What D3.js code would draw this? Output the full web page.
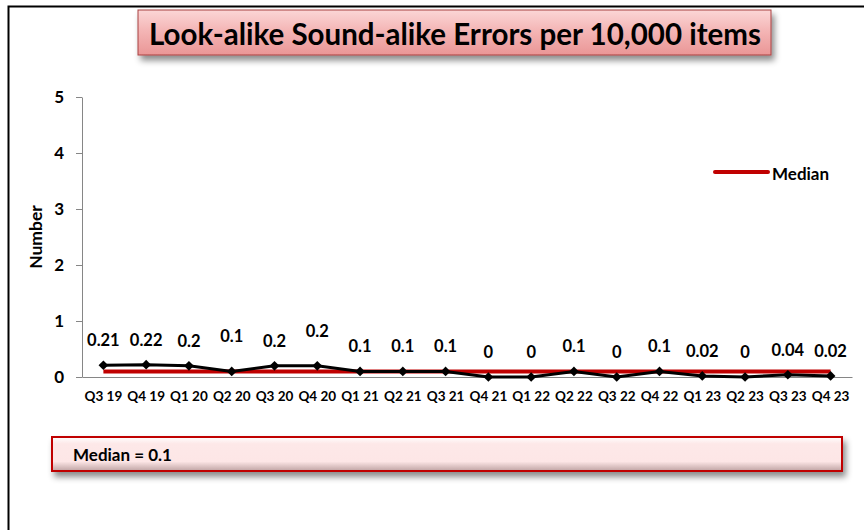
<!DOCTYPE html>
<html>
<head>
<meta charset="utf-8">
<script src="https://cdn.jsdelivr.net/npm/d3@7"></script>
<style>
    body { margin: 0; background: #fff; }
    svg { display: block; font-family: Lato, 'Open Sans', sans-serif; }
</style>
</head>
<body>
<svg id="chart"></svg>
<script>
const svgWidth = 864
const svgHeight = 530

const quarters = ['Q3 19', 'Q4 19', 'Q1 20', 'Q2 20', 'Q3 20', 'Q4 20', 'Q1 21', 'Q2 21', 'Q3 21',
    'Q4 21', 'Q1 22', 'Q2 22', 'Q3 22', 'Q4 22', 'Q1 23', 'Q2 23', 'Q3 23', 'Q4 23']
const errors = [0.21, 0.22, 0.2, 0.1, 0.2, 0.2, 0.1, 0.1, 0.1, 0, 0, 0.1, 0, 0.1, 0.02, 0, 0.04, 0.02]
const labels = ['0.21', '0.22', '0.2', '0.1', '0.2', '0.2', '0.1', '0.1', '0.1', '0', '0', '0.1', '0', '0.1', '0.02', '0', '0.04', '0.02']
const median = 0.1
const yTicks = [0, 1, 2, 3, 4, 5]
// labels Excel left sitting a bit higher
const liftedLabels = ['Q2 20', 'Q4 20']

const margin = { left: 82, right: 12, top: 97, bottom: 153 }
const width = svgWidth - margin.left - margin.right
const height = svgHeight - margin.top - margin.bottom

const svg = d3.select('#chart')
    .attr('width', svgWidth)
    .attr('height', svgHeight)

const defs = svg.append('defs')

const shadow = defs.append('filter')
    .attr('id', 'shadow')
    .attr('x', '-5%').attr('y', '-30%')
    .attr('width', '115%').attr('height', '180%')
shadow.append('feDropShadow')
    .attr('dx', 3).attr('dy', 5)
    .attr('stdDeviation', 3)
    .attr('flood-color', '#000')
    .attr('flood-opacity', 0.45)

const titleGrad = defs.append('linearGradient')
    .attr('id', 'titleGrad')
    .attr('x1', 0).attr('y1', 0).attr('x2', 0).attr('y2', 1)
titleGrad.selectAll('stop')
    .data([['0%', '#fbd6d6'], ['45%', '#f4b6b6'], ['100%', '#ea9696']])
    .join('stop')
    .attr('offset', d => d[0])
    .attr('stop-color', d => d[1])

const boxGrad = defs.append('linearGradient')
    .attr('id', 'boxGrad')
    .attr('x1', 0).attr('y1', 0).attr('x2', 0).attr('y2', 1)
boxGrad.selectAll('stop')
    .data([['0%', '#ffffff'], ['20%', '#fde8e8'], ['72%', '#fde6e6'], ['100%', '#bfa3a3']])
    .join('stop')
    .attr('offset', d => d[0])
    .attr('stop-color', d => d[1])

// outer frame
svg.append('rect')
    .attr('x', 8.5).attr('y', 6.5)
    .attr('width', svgWidth).attr('height', svgHeight)
    .attr('fill', 'none')
    .attr('stroke', '#000')
    .attr('stroke-width', 2)

// title box
const titleBox = svg.append('g')
titleBox.append('rect')
    .attr('x', 138).attr('y', 10)
    .attr('width', 633).attr('height', 45)
    .attr('fill', 'url(#titleGrad)')
    .attr('stroke', '#a84040')
    .attr('stroke-width', 1)
    .attr('filter', 'url(#shadow)')
titleBox.append('text')
    .attr('x', 455).attr('y', 33)
    .attr('text-anchor', 'middle')
    .attr('dominant-baseline', 'central')
    .attr('font-size', 29.5)
    .attr('font-weight', 'bold')
    .attr('fill', '#000')
    .text('Look-alike Sound-alike Errors per 10,000 items')

const chart = svg.append('g')
    .attr('transform', `translate(${[margin.left, margin.top]})`)

const x = d3.scaleBand()
    .domain(quarters)
    .range([0, width])

const y = d3.scaleLinear()
    .domain([0, 5])
    .range([height, 0])

const cx = d => x(d) + x.bandwidth() / 2

// axes
const yAxis = chart.append('g')
    .call(d3.axisLeft(y).tickValues(yTicks).tickFormat(d3.format('d')).tickSize(6).tickSizeOuter(0).tickPadding(12))
yAxis.select('.domain').attr('stroke', '#868686')
yAxis.selectAll('.tick line').attr('stroke', '#868686')
yAxis.selectAll('.tick text')
    .attr('font-size', 17)
    .attr('font-weight', 'bold')
    .attr('fill', '#000')
    .attr('font-family', 'Lato, sans-serif')

const xAxis = chart.append('g')
    .attr('transform', `translate(0, ${height})`)
    .call(d3.axisBottom(x).tickSize(0).tickPadding(14))
xAxis.select('.domain').attr('stroke', '#868686')
xAxis.selectAll('.tick text')
    .attr('font-size', 13.5)
    .attr('font-weight', 'bold')
    .attr('fill', '#000')
    .attr('font-family', 'Lato, sans-serif')

svg.append('text')
    .attr('transform', `translate(35, 237) rotate(-90)`)
    .attr('text-anchor', 'middle')
    .attr('dominant-baseline', 'central')
    .attr('font-size', 17.5)
    .attr('font-weight', 'bold')
    .text('Number')

// median line
chart.append('line')
    .attr('x1', cx(quarters[0]))
    .attr('x2', cx(quarters[quarters.length - 1]))
    .attr('y1', y(median))
    .attr('y2', y(median))
    .attr('stroke', '#c00000')
    .attr('stroke-width', 4)

// series line
const line = d3.line()
    .x((d, i) => cx(quarters[i]))
    .y(d => y(d))

chart.append('path')
    .datum(errors)
    .attr('d', line)
    .attr('fill', 'none')
    .attr('stroke', '#000')
    .attr('stroke-width', 3)

chart.append('g')
    .selectAll('path')
    .data(errors)
    .join('path')
    .attr('d', d3.symbol(d3.symbolDiamond2, 60))
    .attr('transform', (d, i) => `translate(${cx(quarters[i])}, ${y(d)})`)
    .attr('fill', '#000')

chart.append('g')
    .selectAll('text')
    .data(errors)
    .join('text')
    .attr('x', (d, i) => cx(quarters[i]))
    .attr('y', (d, i) => y(d) - (liftedLabels.includes(quarters[i]) ? 35 : 25))
    .attr('text-anchor', 'middle')
    .attr('dominant-baseline', 'central')
    .attr('font-size', 16.5)
    .attr('font-weight', 'bold')
    .text((d, i) => labels[i])

// legend
const legend = svg.append('g')
    .attr('transform', 'translate(715, 172)')
legend.append('line')
    .attr('x1', 0).attr('x2', 53)
    .attr('stroke', '#c00000')
    .attr('stroke-width', 4)
    .attr('stroke-linecap', 'round')
legend.append('text')
    .attr('x', 57).attr('y', 1)
    .attr('dominant-baseline', 'central')
    .attr('font-size', 17)
    .attr('font-weight', 'bold')
    .text('Median')

// median box
const medianBox = svg.append('g')
medianBox.append('rect')
    .attr('x', 52).attr('y', 437)
    .attr('width', 790).attr('height', 34)
    .attr('fill', 'url(#boxGrad)')
    .attr('stroke', '#c00000')
    .attr('stroke-width', 2)
    .attr('filter', 'url(#shadow)')
medianBox.append('text')
    .attr('x', 73).attr('y', 454)
    .attr('dominant-baseline', 'central')
    .attr('font-size', 17)
    .attr('font-weight', 'bold')
    .text(`Median = ${median}`)
</script>
</body>
</html>
